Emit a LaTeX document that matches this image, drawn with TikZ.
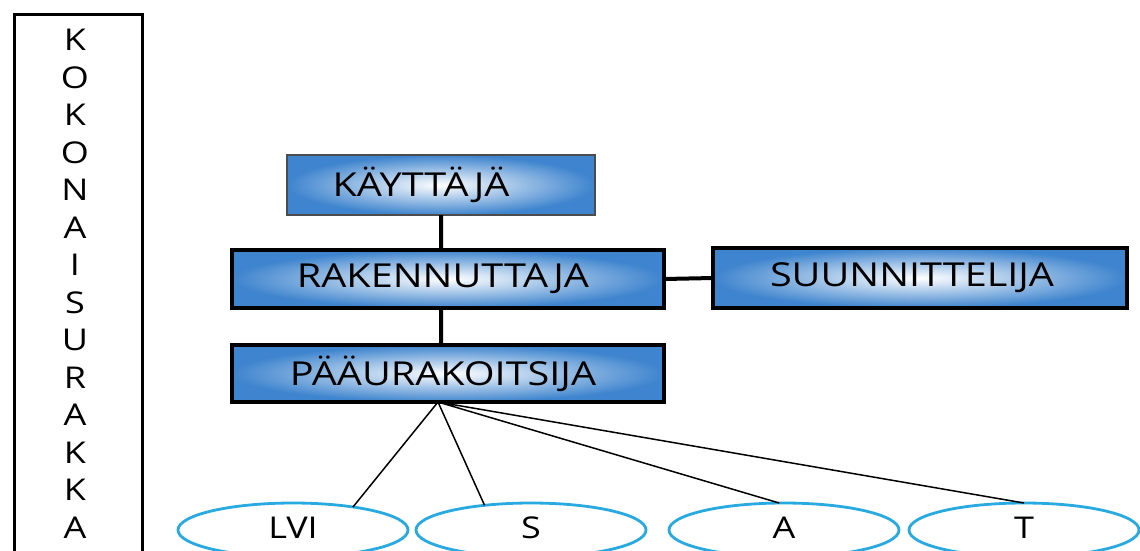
\documentclass[tikz,border=0pt]{standalone}
\usepackage{fontspec}
\setmainfont{Open Sans}
\newfontfamily\widefont[FakeStretch=1.2]{Open Sans}
\usetikzlibrary{shapes.geometric}
\definecolor{boxblue}{RGB}{62,132,206}
\definecolor{tradeblue}{RGB}{40,170,225}
\begin{document}
\begin{tikzpicture}[x=1pt,y=-1pt,
	role/.style={draw=black,line width=4pt,inner color=white,outer color=boxblue,
		minimum width=432pt,minimum height=58pt,outer sep=0pt,
		font=\widefont\fontsize{33}{36}\selectfont},
	trade/.style={ellipse,draw=tradeblue,line width=2.8pt,fill=white,
		minimum width=230pt,minimum height=54pt,outer sep=0pt,
		font=\widefont\fontsize{30}{32}\selectfont}]
	\useasboundingbox (0,0) rectangle (1140,550);
	% the tall frame on the left
	\draw[line width=3pt] (14,560) -- (14,14) -- (142,14) -- (142,560);
	\node[align=center,font=\widefont\fontsize{30}{37.5}\selectfont] (side) at (75,284)
		{K\\O\\K\\O\\N\\A\\I\\S\\U\\R\\A\\K\\K\\A};
	% the hierarchy
	\node[role,draw=black!70,line width=1.5pt,minimum width=308pt,minimum height=60pt] (kay) at (441,185) {K\"AYTT\"AJ\"A\hspace*{40pt}};
	\node[role] (rak) at (448,279) {RAKENNUTTAJA\hspace*{10pt}};
	\node[role,minimum width=414pt,minimum height=60pt] (suu) at (920,278) {SUUNNITTELIJA\hspace*{16pt}};
	\node[role,minimum height=57pt] (pau) at (448,373.5) {P\"A\"AURAKOITSIJA\hspace*{10pt}};
	\draw[line width=4pt] (kay.south) -- (kay.south |- rak.north)
		(kay.south |- rak.south) -- (kay.south |- pau.north)
		(rak.east) -- (suu.west);
	% trades under the main contractor
	\node[trade] (lvi) at (293,530) {\raisebox{4pt}{LVI}};
	\node[trade] (s) at (531,530) {\raisebox{4pt}{S}};
	\node[trade] (a) at (784,530) {\raisebox{4pt}{A}};
	\node[trade] (t) at (1024,530) {\raisebox{4pt}{T}};
	\coordinate (fork) at ([xshift=-10pt]pau.south);
	\draw[line width=1.5pt] (fork) -- (lvi.21)
		(fork) -- (s.152)
		(fork) -- (a.100)
		(fork) -- (t.north);
\end{tikzpicture}
\end{document}
